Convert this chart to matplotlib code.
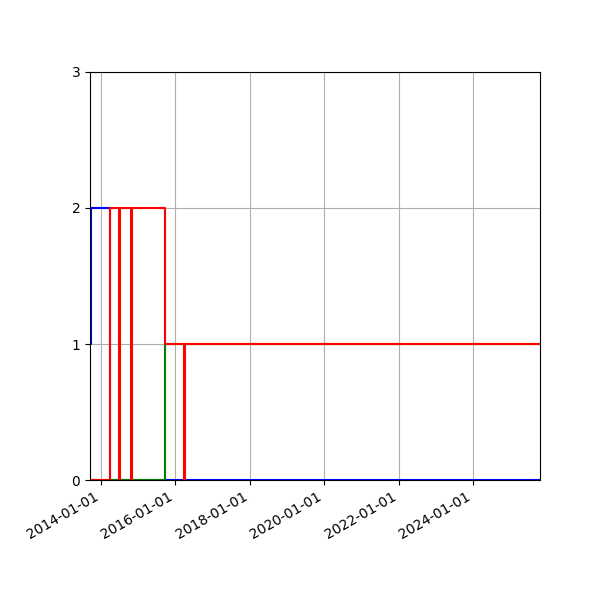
import numpy as np
import matplotlib
matplotlib.use("Agg")
import matplotlib.pyplot as plt
import matplotlib.dates as mdates

# step series (value holds until the next date)
blue_dates = ["2013-09-15", "2013-09-25", "2014-03-30", "2025-10-20"]
blue_vals = [1, 2, 0, 0]

green_dates = ["2013-09-15", "2015-09-24", "2025-10-20"]
green_vals = [0, 1, 1]

red_dates = ["2013-09-15", "2014-03-30", "2014-06-28", "2014-07-04",
             "2014-10-24", "2014-10-30", "2015-09-24", "2016-03-28",
             "2016-04-03", "2025-10-20"]
red_vals = [0, 2, 0, 2, 0, 2, 1, 0, 1, 1]

fig = plt.figure(figsize=(6, 6), dpi=100)
ax = fig.add_axes([0.15, 0.2, 0.75, 0.68])

for d, v, c in [(blue_dates, blue_vals, "blue"),
                (green_dates, green_vals, "green"),
                (red_dates, red_vals, "red")]:
    ax.step(np.array(d, dtype="datetime64[D]"), v, where="post", color=c)

ax.set_xlim(np.datetime64("2013-09-15"), np.datetime64("2025-10-20"))
ax.set_ylim(0, 3)
ax.set_yticks([0, 1, 2, 3])
ax.xaxis.set_major_locator(mdates.YearLocator(2))
ax.xaxis.set_major_formatter(mdates.DateFormatter("%Y-%m-%d"))
ax.grid(True)
for lbl in ax.get_xticklabels():
    lbl.set_rotation(30)
    lbl.set_ha("right")

fig.savefig("out.png")
